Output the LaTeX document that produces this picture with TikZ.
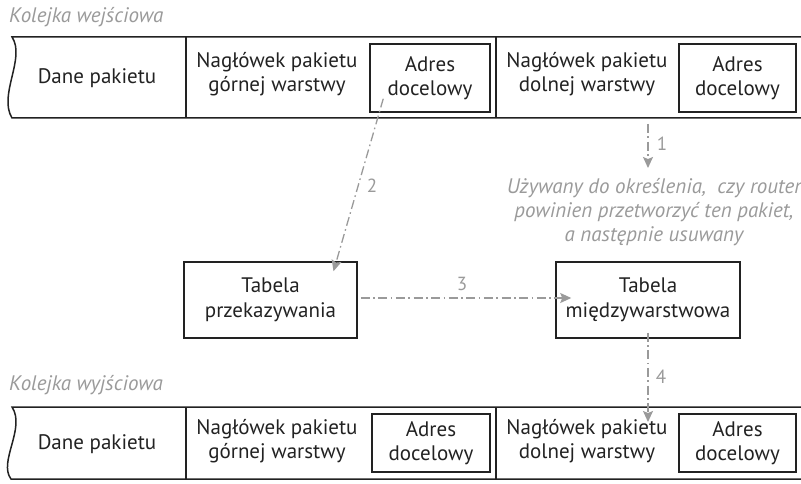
\documentclass[tikz,border=0pt]{standalone}
\usepackage{fontspec}
\setmainfont{PT Sans}
\usetikzlibrary{arrows.meta,calc}
\definecolor{ink}{HTML}{222222}
\definecolor{lgray}{HTML}{9A9A9A}
\tikzset{
  txt/.style={inner sep=0pt, align=center, text=ink, font=\fontsize{21}{24.5}\selectfont},
  cell/.style={draw=ink, line width=1.5pt, inner sep=0pt, align=center, text=ink, font=\fontsize{21}{24.5}\selectfont},
  lbl/.style={inner sep=0pt, text=lgray, font=\fontsize{21}{24}\selectfont\itshape},
  num/.style={inner sep=0pt, text=lgray, font=\fontsize{19}{22}\selectfont},
  flow/.style={draw=lgray, line width=1.3pt, dash pattern=on 9pt off 3.5pt on 1.6pt off 3.5pt, -{Stealth[length=11pt,width=10pt,inset=2pt]}},
  band/.style={draw=ink, line width=1.5pt},
}
\begin{document}
\begin{tikzpicture}[x=1pt,y=-1pt]
\useasboundingbox (0,0) rectangle (801,484);
% labels
\node[lbl, anchor=west] (inlbl) at (9,17) {Kolejka wejściowa};
\node[lbl, anchor=west] (outlbl) at (9,385) {Kolejka wyjściowa};
% top band
\draw[band] (801,37) -- (12,37) .. controls (26,58) and (-2,95) .. (12,118) -- (801,118);
\draw[band] (186,37) -- (186,118);
\draw[band] (496,37) -- (496,118);
\node[txt] (d1) at (97,78) {Dane pakietu};
\node[txt] (g1) at (277,74) {Nagłówek pakietu\\górnej warstwy};
\node[cell, minimum width=120pt, minimum height=68pt] (a1) at (430,78) {Adres\\docelowy};
\node[txt] (l1) at (587,74) {Nagłówek pakietu\\dolnej warstwy};
\node[cell, minimum width=117pt, minimum height=68pt] (b1) at (737.5,78) {Adres\\docelowy};
% bottom band
\draw[band] (801,407) -- (12,407) .. controls (26,428) and (-2,462) .. (11,479) -- (801,479);
\draw[band] (186,407) -- (186,479);
\draw[band] (496,407) -- (496,479);
\node[txt] (d2) at (97,444) {Dane pakietu};
\node[txt] (g2) at (277,441) {Nagłówek pakietu\\górnej warstwy};
\node[cell, minimum width=118pt, minimum height=58pt] (a2) at (431,443) {Adres\\docelowy};
\node[txt] (l2) at (587,441) {Nagłówek pakietu\\dolnej warstwy};
\node[cell, minimum width=117pt, minimum height=58pt] (b2) at (737.5,443) {Adres\\docelowy};
% tables
\node[cell, minimum width=173pt, minimum height=76pt] (t1) at (270.5,300) {Tabela\\przekazywania};
\node[cell, minimum width=184pt, minimum height=76pt] (t2) at (648,300) {Tabela\\międzywarstwowa};
% note
\node[lbl, align=center] (note) at (654,212) {Używany do określenia,~ czy router\\powinien przetworzyć ten pakiet,\\a następnie usuwany};
% arrows
\coordinate (s1) at (648,124);
\coordinate (e1) at (648,168);
\draw[flow] (s1) -- (e1);
\node[num] (n1) at (662,144) {1};
\coordinate (s2) at ($(a1.south west)+(14,-14)$);
\coordinate (e2) at ($(t1.north)+(63,10)$);
\draw[flow] (s2) -- (e2);
\node[num] (n2) at (372,186) {2};
\coordinate (s3) at ($(t1.east)+(3,-2)$);
\coordinate (e3) at ($(t2.west)+(16,-2)$);
\draw[flow] (s3) -- (e3);
\node[num] (n3) at (462,284) {3};
\coordinate (s4) at ($(t2.south)+(0,-6)$);
\coordinate (e4) at (648,422);
\draw[flow] (s4) -- (e4);
\node[num] (n4) at (661,377) {4};
\end{tikzpicture}
\end{document}
